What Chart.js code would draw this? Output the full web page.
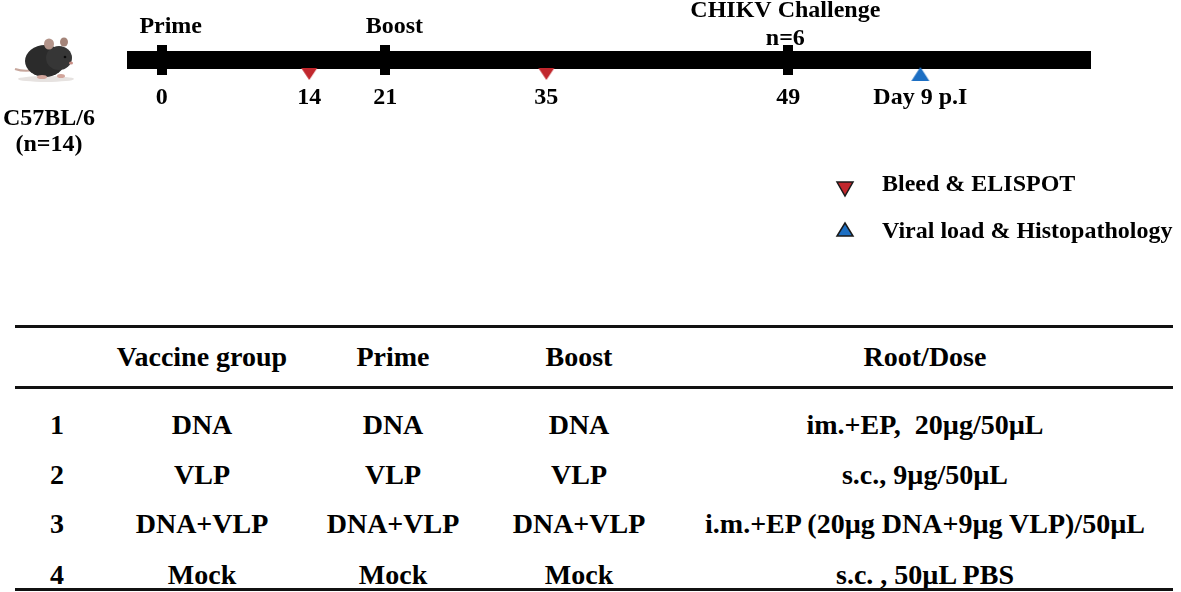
<!DOCTYPE html>
<html>
<head>
<meta charset="utf-8">
<script src="https://cdn.jsdelivr.net/npm/chart.js@4.4.1/dist/chart.umd.min.js"></script>
<style>
    body {
        margin: 0;
        width: 1181px;
        height: 592px;
        position: relative;
        overflow: hidden;
        background: #fff;
        font-family: "Liberation Serif", "Times New Roman", serif;
        font-weight: bold;
        color: #000;
    }
    #timeline { position: absolute; left: 0; top: 0; }
    #mouse { position: absolute; left: 8px; top: 32px; }
    .strain {
        position: absolute;
        left: 0;
        top: 104px;
        width: 98px;
        text-align: center;
        font-size: 24px;
        line-height: 26px;
    }
    .rule { position: absolute; left: 15px; width: 1158px; background: #111; }
    .cell {
        position: absolute;
        height: 40px;
        line-height: 40px;
        text-align: center;
        font-size: 28px;
        white-space: pre;
    }
</style>
</head>
<body>
<canvas id="timeline" width="1181" height="300"></canvas>

<svg id="mouse" width="72" height="52" viewBox="0 0 72 52">
    <ellipse cx="38" cy="47" rx="28" ry="3" fill="#e6e2e0"/>
    <path d="M26 38 Q16 40 7 37" stroke="#c7a79d" stroke-width="2" fill="none"/>
    <ellipse cx="37" cy="29" rx="20" ry="16" fill="#2b2b2b"/>
    <ellipse cx="51" cy="26" rx="13" ry="12" fill="#363636"/>
    <ellipse cx="41" cy="12" rx="5" ry="5.5" fill="#b3948a"/>
    <ellipse cx="56" cy="10" rx="4" ry="4.5" fill="#a48479"/>
    <circle cx="57" cy="25" r="1.3" fill="#0a0a0a"/>
    <ellipse cx="63" cy="31" rx="2" ry="1.5" fill="#c98f86"/>
    <ellipse cx="34" cy="45" rx="5" ry="2" fill="#d2a59b"/>
    <ellipse cx="53" cy="44" rx="4" ry="2" fill="#d2a59b"/>
</svg>
<div class="strain">C57BL/6<br>(n=14)</div>

<div id="groups"></div>

<script>
    // Timeline events, placed on the schematic bar (0-100 along its length).
    const dayLabels = ["0", "14", "21", "35", "49", "Day 9 p.I"];
    const dayPos = [3.6, 18.9, 26.8, 43.5, 68.6, 82.3];
    const doseNames = ["Prime", "Boost", "CHIKV Challenge"];
    const doseNotes = ["", "", "n=6"];
    const dosePos = [3.6, 26.8, 68.6];
    const bleedPos = [18.9, 43.5];
    const harvestPos = [82.3];
    const legendLabels = ["Bleed & ELISPOT", "Viral load & Histopathology"];

    // Vaccine group table.
    const tableHeaders = ["", "Vaccine group", "Prime", "Boost", "Root/Dose"];
    const groupIds = ["1", "2", "3", "4"];
    const vaccineGroups = ["DNA", "VLP", "DNA+VLP", "Mock"];
    const primeAgents = ["DNA", "VLP", "DNA+VLP", "Mock"];
    const boostAgents = ["DNA", "VLP", "DNA+VLP", "Mock"];
    const routeDose = ["im.+EP,  20µg/50µL", "s.c., 9µg/50µL", "i.m.+EP (20µg DNA+9µg VLP)/50µL", "s.c. , 50µL PBS"];

    const RED = "#c1272d";
    const BLUE = "#1d6fc3";
    const FONT = "\"Liberation Serif\", \"Times New Roman\", serif";

    // Marker images (drawn centred on the bar, shape offset below it where needed).
    function makeMarker(w, h, draw) {
        const c = document.createElement("canvas");
        c.width = w;
        c.height = h;
        draw(c.getContext("2d"));
        return c;
    }

    const doseMark = makeMarker(10, 30, (g) => {
        g.fillStyle = "#000";
        g.fillRect(0, 0, 10, 30);
    });

    const bleedMark = makeMarker(18, 42, (g) => {
        g.fillStyle = RED;
        g.beginPath();
        g.moveTo(1, 29);
        g.lineTo(17, 29);
        g.lineTo(9, 41);
        g.closePath();
        g.fill();
    });

    const harvestMark = makeMarker(20, 44, (g) => {
        g.fillStyle = BLUE;
        g.beginPath();
        g.moveTo(1, 43);
        g.lineTo(19, 43);
        g.lineTo(10, 29);
        g.closePath();
        g.fill();
    });

    const annotate = {
        id: "annotate",
        afterDatasetsDraw(chart) {
            const ctx = chart.ctx;
            const xs = chart.scales.x;
            ctx.save();
            ctx.fillStyle = "#000";
            ctx.font = "bold 24px " + FONT;
            ctx.textAlign = "center";
            ctx.textBaseline = "alphabetic";
            dosePos.forEach((p, i) => {
                const px = xs.getPixelForValue(p);
                if (doseNotes[i]) {
                    ctx.fillText(doseNames[i], px - 3, 17);
                    ctx.fillText(doseNotes[i], px - 3, 45);
                } else {
                    ctx.fillText(doseNames[i], px + 9, 33);
                }
            });

            // Legend
            ctx.lineWidth = 1.5;
            ctx.strokeStyle = "#1a1a1a";
            ctx.fillStyle = RED;
            ctx.beginPath();
            ctx.moveTo(837, 182);
            ctx.lineTo(853, 182);
            ctx.lineTo(845, 196);
            ctx.closePath();
            ctx.fill();
            ctx.stroke();

            ctx.fillStyle = BLUE;
            ctx.beginPath();
            ctx.moveTo(837, 236);
            ctx.lineTo(853, 236);
            ctx.lineTo(845, 223);
            ctx.closePath();
            ctx.fill();
            ctx.stroke();

            ctx.fillStyle = "#000";
            ctx.textAlign = "left";
            ctx.textBaseline = "middle";
            ctx.fillText(legendLabels[0], 882, 185);
            ctx.fillText(legendLabels[1], 882, 232);
            ctx.restore();
        }
    };

    const onBar = (arr) => arr.map((x) => ({ x: x, y: 0 }));

    new Chart(document.getElementById("timeline"), {
        type: "line",
        data: {
            datasets: [
                { data: onBar(dosePos), showLine: false, pointStyle: doseMark, pointRadius: 5, clip: false },
                { data: onBar(bleedPos), showLine: false, pointStyle: bleedMark, pointRadius: 5, clip: false },
                { data: onBar(harvestPos), showLine: false, pointStyle: harvestMark, pointRadius: 5, clip: false },
                {
                    data: [{ x: 0, y: 0 }, { x: 100, y: 0 }],
                    borderColor: "#000",
                    borderWidth: 18,
                    borderCapStyle: "butt",
                    pointRadius: 0,
                    clip: false
                }
            ]
        },
        options: {
            responsive: false,
            animation: false,
            events: [],
            layout: { padding: { left: 127, right: 90, top: 37, bottom: 187 } },
            plugins: { legend: { display: false }, tooltip: { enabled: false } },
            scales: {
                x: {
                    type: "linear",
                    min: 0,
                    max: 100,
                    grid: { display: false, drawTicks: false },
                    border: { display: false },
                    afterBuildTicks: (axis) => {
                        axis.ticks = dayPos.map((v) => ({ value: v }));
                    },
                    afterFit: (axis) => {
                        axis.height = 30;
                    },
                    ticks: {
                        autoSkip: false,
                        maxRotation: 0,
                        padding: 0,
                        color: "#000",
                        font: { family: FONT, size: 24, weight: "bold" },
                        callback: (value, index) => dayLabels[index]
                    }
                },
                y: { display: false, min: -1, max: 1 }
            }
        },
        plugins: [annotate]
    });

    // Build the table from the arrays.
    const groups = document.getElementById("groups");
    const colLeft = [15, 99, 305, 481, 677];
    const colWidth = [84, 206, 176, 196, 496];
    const rowMid = [357, 425, 475, 524, 575];

    function addCell(text, col, row) {
        const d = document.createElement("div");
        d.className = "cell";
        d.textContent = text;
        d.style.left = colLeft[col] + "px";
        d.style.width = colWidth[col] + "px";
        d.style.top = (rowMid[row] - 20) + "px";
        groups.appendChild(d);
    }

    tableHeaders.forEach((h, c) => addCell(h, c, 0));
    groupIds.forEach((id, r) => {
        addCell(id, 0, r + 1);
        addCell(vaccineGroups[r], 1, r + 1);
        addCell(primeAgents[r], 2, r + 1);
        addCell(boostAgents[r], 3, r + 1);
        addCell(routeDose[r], 4, r + 1);
    });

    [[325, 3], [386, 3], [588, 3]].forEach(([top, h]) => {
        const r = document.createElement("div");
        r.className = "rule";
        r.style.top = top + "px";
        r.style.height = h + "px";
        groups.appendChild(r);
    });
</script>
</body>
</html>
